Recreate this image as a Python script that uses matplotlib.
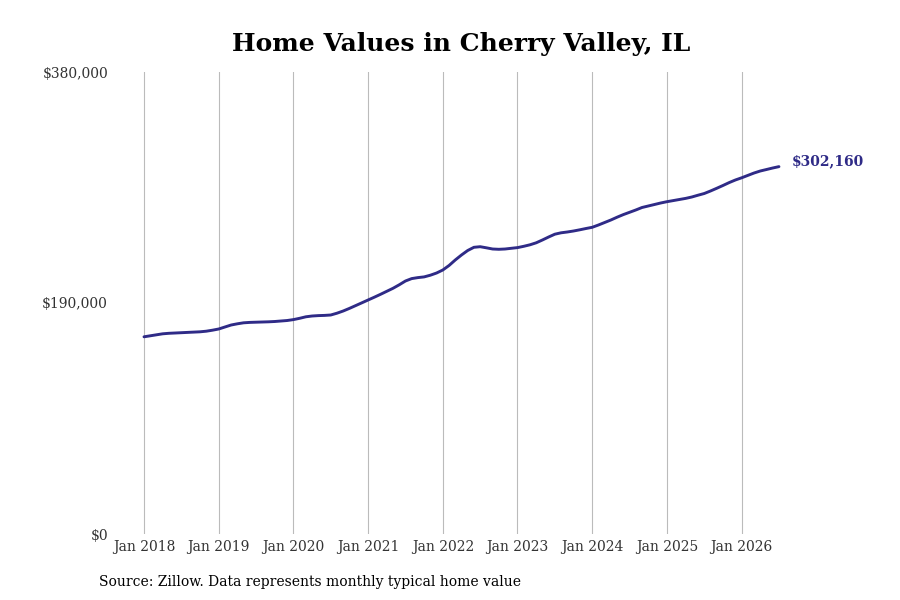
import numpy as np
import matplotlib.pyplot as plt

# typical home value, monthly, Jan 2018 .. Jul 2026
values = [
    162200, 163020, 163840, 164660, 165080, 165320, 165570, 165820, 166060, 166310, 166800, 167630,
    168610, 170260, 171900, 172890, 173710, 174040, 174210, 174370, 174530, 174780, 175190, 175600,
    176340, 177410, 178650, 179300, 179630, 179800, 180130, 181610, 183420, 185560, 187860, 190160,
    192470, 194770, 197150, 199620, 202090, 204970, 208090, 210070, 210890, 211470, 212860, 214670,
    217140, 220840, 225370, 229480, 233180, 235810, 236300, 235400, 234410, 234170, 234410, 234990,
    235560, 236630, 237870, 239510, 241820, 244280, 246590, 247740, 248400, 249220, 250200, 251270,
    252260, 254150, 256210, 258270, 260570, 262710, 264600, 266490, 268550, 269780, 271010, 272250,
    273320, 274220, 275130, 276030, 277180, 278660, 280060, 282120, 284340, 286640, 289030, 291170,
    292970, 294950, 296920, 298570, 299800, 301040, 302160,
]
years = [2018, 2019, 2020, 2021, 2022, 2023, 2024, 2025, 2026]
tick_labels = ["Jan %d" % y for y in years]
y_ticks = [0, 190000, 380000]
y_labels = ["$0", "$190,000", "$380,000"]
end_label = "$302,160"

line_color = "#2f2b87"
plt.rcParams["font.family"] = ["DejaVu Serif"]

months = np.arange(len(values))

fig = plt.figure(figsize=(9, 6), dpi=100)
ax = fig.add_axes([115 / 900, 66 / 600, 745 / 900, 462 / 600])

ax.plot(months, values, color=line_color, lw=2.1, solid_capstyle="round")
# value label sits a little above the end of the line
ax.annotate(end_label, (months[-1], values[-1]), xytext=(9.5, 3.8), textcoords="offset points",
            color=line_color, fontsize=10, fontweight="bold", va="center", ha="left")

ax.set_xlim(-29 / 6.225, 716 / 6.225)
ax.set_ylim(0, 380000)
ax.set_xticks([12 * (y - 2018) for y in years])
ax.set_xticklabels(tick_labels, fontsize=10, color="#333333")
ax.set_yticks(y_ticks)
ax.set_yticklabels(y_labels, fontsize=10, color="#333333")
ax.tick_params(axis="both", length=0)
ax.tick_params(axis="x", pad=4)
ax.tick_params(axis="y", pad=5)
ax.grid(axis="x", color="#bbbbbb", lw=0.8)
ax.grid(axis="y", visible=False)
for s in ax.spines.values():
    s.set_visible(False)

fig.text(0.512, 0.927, "Home Values in Cherry Valley, IL", ha="center", va="center",
         fontsize=18, fontweight="bold", color="black")
fig.text(99 / 900, 1 - 582 / 600, "Source: Zillow. Data represents monthly typical home value",
         ha="left", va="center", fontsize=10, color="black")

fig.savefig("out.png", dpi=100)
